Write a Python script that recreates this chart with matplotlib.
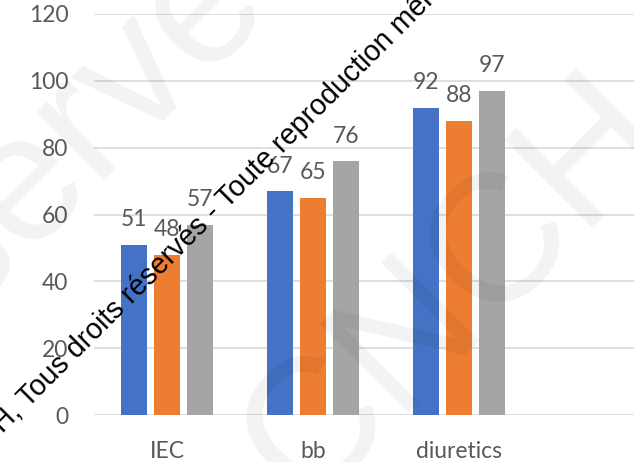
import matplotlib
matplotlib.use("Agg")
import matplotlib.pyplot as plt
import numpy as np

categories = ["IEC", "bb", "diuretics", ""]
series_1 = [51, 67, 92]
series_2 = [48, 65, 88]
series_3 = [57, 76, 97]
y_ticks = [0, 20, 40, 60, 80, 100, 120]

colors = ["#4472C4", "#ED7D31", "#A5A5A5"]
text_color = "#595959"
font = "Lato"

fig = plt.figure(figsize=(6.34, 4.62), dpi=100)
ax = fig.add_axes([94/634, 47/462, 584/634, 401/462])

x = np.arange(3)
pitch = 0.226
width = 0.175
for i, (vals, c) in enumerate(zip([series_1, series_2, series_3], colors)):
    xs = x + (i - 1) * pitch
    ax.bar(xs, vals, width=width, color=c, zorder=3)
    for xi, v in zip(xs, vals):
        ax.annotate(str(v), (xi, v), xytext=(0, 13.3), textcoords="offset points",
                    ha="center", va="baseline", fontsize=16.5, color=text_color,
                    family=font, zorder=4)

ax.set_xlim(-0.5, 3.5)
ax.set_ylim(0, 120)
ax.set_yticks(y_ticks)
ax.set_xticks(np.arange(4))
ax.set_xticklabels(categories)
ax.yaxis.grid(True, color="#D9D9D9", linewidth=1.2, zorder=0)
ax.set_axisbelow(True)
for s in ax.spines.values():
    s.set_visible(False)
ax.tick_params(axis="both", length=0, labelsize=16.5, labelcolor=text_color)
ax.tick_params(axis="y", pad=18.5)
ax.tick_params(axis="x", pad=19)
for lab in ax.get_xticklabels() + ax.get_yticklabels():
    lab.set_family(font)

# faint background watermark
fig.text(456/634, 1 - 290/462, "CNCH", fontsize=130, color="black", alpha=0.05,
         rotation=45, ha="center", va="center", family="Liberation Sans", zorder=10)
fig.text(57/634, 1 - 150/462, "réservés", fontsize=130, color="black", alpha=0.05,
         rotation=45, ha="center", va="center", family="Liberation Sans", zorder=10)

# copyright watermark text
fig.text(3/634, 1 - 434/462, "H, Tous droits réservés - Toute reproduction même partielle interdite",
         fontsize=20.6, color="black", rotation=45, rotation_mode="anchor",
         ha="left", va="baseline", family="Liberation Sans", zorder=11)

fig.savefig("out.png", dpi=100)
